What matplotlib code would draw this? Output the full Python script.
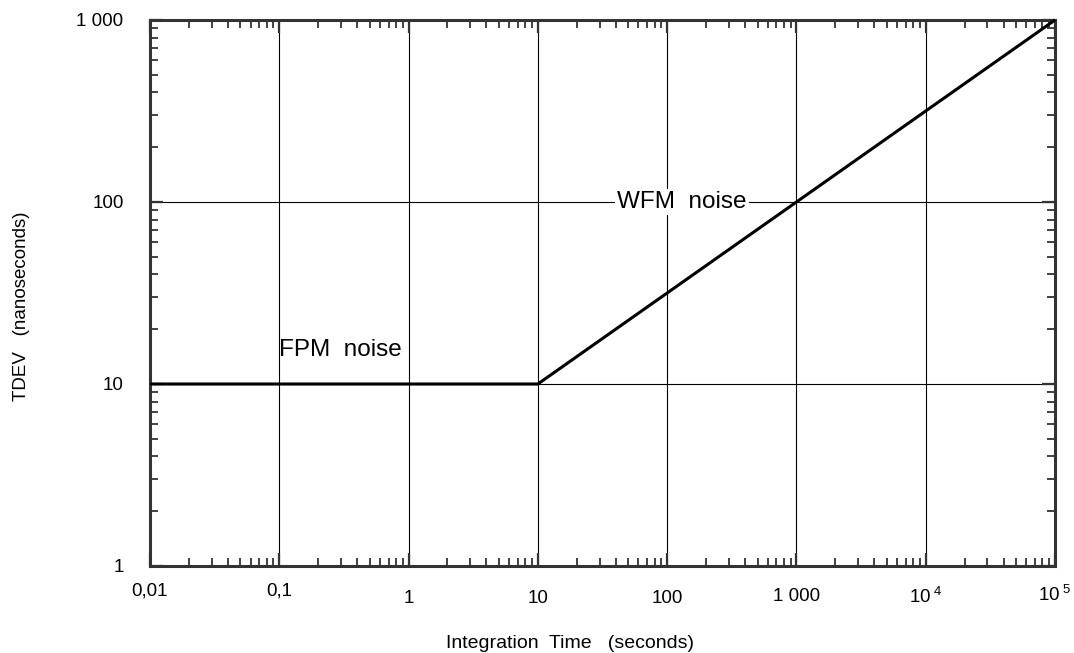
import matplotlib
matplotlib.use("Agg")
import matplotlib.pyplot as plt
import matplotlib.transforms as mtransforms
from matplotlib.ticker import LogLocator, FixedLocator, NullFormatter

plt.rcParams['font.family'] = ['Liberation Sans', 'DejaVu Sans']
plt.rcParams['mathtext.fontset'] = 'custom'
plt.rcParams['mathtext.rm'] = 'Liberation Sans'
plt.rcParams['mathtext.it'] = 'Liberation Sans:italic'

# TDEV model: flat FPM floor, then WFM slope of 1/2 on log-log
tau = [0.01, 10, 1e5]
tdev = [10, 10, 1000]

x_ticks = [0.01, 0.1, 1, 10, 100, 1000, 1e4, 1e5]
x_labels = ['0,01', '0,1', '1', '10', '100', '1 000',
            r'$\mathregular{10^{\ 4}}$', r'$\mathregular{10^{\ 5}}$']
# extra drop of each x label below the common position (pixels)
x_label_drop = [0, 0, 7, 7, 7, 5, 4, 2]

y_ticks = [1, 10, 100, 1000]
y_labels = ['1', '10', '100', '1 000']

W, H = 1074, 653
fig = plt.figure(figsize=(W / 100, H / 100), dpi=100)
ax = fig.add_axes([150 / W, 87 / H, 905 / W, 546 / H])

ax.set_xscale('log')
ax.set_yscale('log')
ax.set_xlim(0.01, 1e5)
ax.set_ylim(1, 1000)

ax.plot(tau, tdev, color='black', lw=2.2, solid_capstyle='butt',
        clip_on=False, zorder=3)

ax.grid(True, which='major', color='black', lw=0.8)
ax.set_axisbelow(True)

ax.xaxis.set_major_locator(FixedLocator(x_ticks))
ax.yaxis.set_major_locator(FixedLocator(y_ticks))
ax.xaxis.set_minor_locator(LogLocator(base=10, subs=range(2, 10), numticks=20))
ax.yaxis.set_minor_locator(LogLocator(base=10, subs=range(2, 10), numticks=20))
ax.xaxis.set_minor_formatter(NullFormatter())
ax.yaxis.set_minor_formatter(NullFormatter())
ax.set_xticklabels(x_labels)
ax.set_yticklabels(y_labels)

ax.tick_params(which='both', direction='in', top=True, right=True,
               color='#333333', labelsize=13.5)
ax.tick_params(which='major', length=9.5, width=1.6)
ax.tick_params(which='minor', length=6, width=1.3)
ax.tick_params(axis='x', which='major', pad=12)
ax.tick_params(axis='y', which='major', pad=19)

for s in ax.spines.values():
    s.set_linewidth(2.2)
    s.set_color('#333333')

fig.canvas.draw()
for lab, dy in zip(ax.get_xticklabels(), x_label_drop):
    lab.set_verticalalignment('top')
    off = mtransforms.ScaledTranslation(0, -dy / 100, fig.dpi_scale_trans)
    lab.set_transform(lab.get_transform() + off)

ax.text(0.1, 15.4, 'FPM  noise', fontsize=17.5, ha='left', va='center')
ax.text(41, 100, 'WFM  noise', fontsize=17.5, ha='left', va='center',
        bbox=dict(facecolor='white', edgecolor='none', pad=1.5), zorder=2)

fig.text(570 / W, 1 - 643 / H, 'Integration  Time   (seconds)',
         fontsize=14, ha='center', va='center')
fig.text(22 / W, 1 - 306 / H, 'TDEV   (nanoseconds)', fontsize=13.5,
         rotation=90, ha='center', va='center')

fig.savefig('out.png', dpi=100)
